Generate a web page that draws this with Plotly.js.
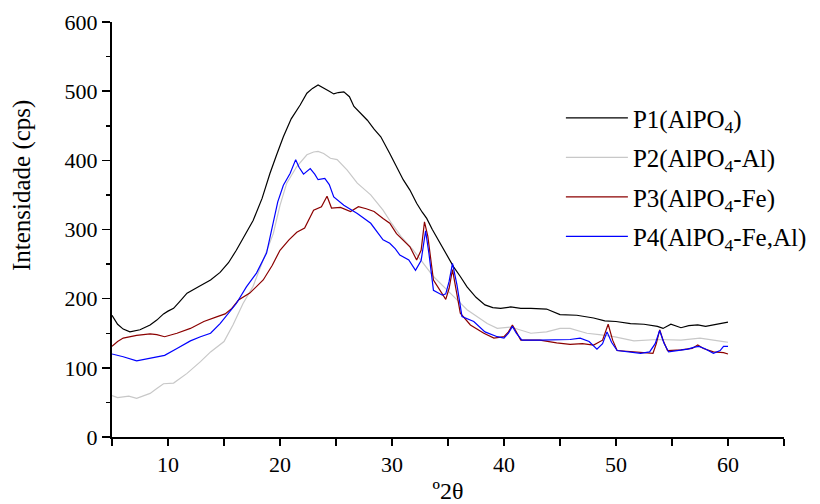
<!DOCTYPE html>
<html>
<head>
<meta charset="utf-8">
<script src="https://cdn.plot.ly/plotly-3.0.1.min.js"></script>
<style>
  html, body { margin: 0; padding: 0; background: #fff; }
  #chart { width: 820px; height: 504px; }
</style>
</head>
<body>
<div id="chart"></div>
<script>
// ---- Data ----
const seriesNames = ["P1(AlPO<sub>4</sub>)", "P2(AlPO<sub>4</sub>-Al)", "P3(AlPO<sub>4</sub>-Fe)", "P4(AlPO<sub>4</sub>-Fe,Al)"];

const p1X = [5.0, 5.5, 6.0, 6.6, 7.5, 8.4, 9.0, 9.6, 10.0, 10.5, 11.0, 11.7, 12.8, 13.8, 14.65, 15.4, 16.1, 16.9, 17.6, 18.4, 19.1, 19.7, 20.3, 21.0, 21.8, 22.4, 22.9, 23.4, 23.9, 24.4, 24.8, 25.2, 25.7, 26.2, 26.6, 27.2, 27.8, 28.4, 29.0, 29.8, 30.4, 31.0, 31.6, 32.2, 32.7, 33.1, 33.6, 34.3, 34.9, 35.5, 36.1, 36.7, 37.5, 38.3, 39.0, 39.7, 40.6, 41.5, 42.4, 43.8, 45.0, 46.5, 48.0, 49.0, 50.0, 51.3, 52.5, 53.7, 54.2, 54.9, 55.8, 56.5, 57.3, 58.0, 58.7, 59.6, 60.0];
const p1Y = [176, 163, 156, 152, 155, 162, 169, 178, 182, 186, 195, 208, 218, 227, 238, 252, 270, 292, 313, 345, 381, 408, 434, 460, 480, 497, 504, 509, 505, 500, 496, 498, 499, 492, 478, 468, 458, 445, 434, 410, 392, 372, 357, 338, 325, 316, 300, 280, 263, 246, 232, 217, 202, 191, 187, 186, 188, 186, 186, 185, 177, 176, 172, 168, 167, 164, 163, 160, 157, 163, 158, 161, 162, 160, 162, 165, 166];

const p2X = [5.0, 5.5, 6.0, 6.5, 7.2, 8.4, 9.0, 9.6, 10.5, 11.7, 12.9, 13.8, 15.0, 15.8, 16.7, 17.6, 18.5, 19.4, 20.0, 20.6, 21.5, 22.4, 23.0, 23.4, 23.9, 24.5, 25.1, 26.0, 26.9, 28.1, 29.2, 30.0, 30.8, 31.9, 32.8, 33.7, 35.2, 36.7, 38.5, 39.4, 40.6, 41.5, 42.4, 43.8, 45.0, 45.9, 47.4, 48.5, 49.8, 51.6, 53.7, 55.8, 57.5, 59.6, 60.0];
const p2Y = [60, 57, 58, 59, 56, 63, 70, 77, 78, 92, 109, 123, 138, 162, 193, 218, 256, 294, 335, 367, 391, 408, 412, 413, 410, 403, 401, 386, 367, 350, 328, 308, 290, 270, 251, 232, 208, 184, 164, 157, 159, 154, 150, 152, 157, 157, 150, 148, 145, 139, 141, 140, 143, 138, 137];

const p3X = [5.0, 5.5, 6.0, 7.2, 8.4, 9.0, 9.7, 10.8, 12.0, 13.2, 14.4, 15.1, 15.7, 16.3, 17.3, 18.5, 19.3, 20.0, 20.8, 21.5, 22.2, 23.0, 23.7, 24.2, 24.6, 25.4, 26.3, 27.0, 27.7, 28.4, 29.2, 29.8, 30.4, 31.0, 31.6, 32.2, 32.6, 32.9, 33.2, 33.7, 34.3, 34.8, 35.1, 35.4, 35.7, 36.1, 37.0, 38.2, 39.1, 40.0, 40.4, 40.75, 41.1, 41.5, 43.2, 44.7, 45.9, 47.0, 48.0, 48.8, 49.3, 49.7, 50.1, 51.0, 52.2, 53.3, 53.6, 53.9, 54.2, 54.6, 55.8, 56.8, 57.3, 57.8, 58.7, 59.6, 60.0];
const p3Y = [131, 138, 143, 147, 149, 148, 145, 150, 157, 167, 174, 178, 186, 198, 208, 227, 248, 270, 285, 296, 302, 328, 333, 348, 331, 332, 326, 333, 330, 326, 316, 309, 294, 285, 275, 256, 270, 311, 290, 227, 212, 199, 215, 242, 215, 179, 162, 150, 143, 145, 152, 162, 152, 140, 140, 136, 134, 135, 133, 140, 163, 140, 125, 124, 123, 121, 135, 155, 140, 125, 126, 128, 133, 128, 123, 122, 120];

const p4X = [5.0, 5.5, 6.0, 7.2, 8.7, 9.7, 10.8, 12.0, 12.9, 13.8, 14.65, 15.25, 16.1, 17.0, 17.9, 18.8, 19.4, 19.8, 20.3, 20.9, 21.4, 21.7, 22.1, 22.7, 23.1, 23.4, 24.0, 24.4, 24.8, 25.7, 26.9, 28.1, 29.2, 29.8, 30.3, 30.7, 31.5, 32.1, 32.6, 33.0, 33.3, 33.7, 34.5, 34.8, 35.1, 35.4, 35.8, 36.25, 37.3, 38.3, 39.4, 40.0, 40.4, 40.75, 41.1, 41.6, 43.2, 44.7, 45.9, 46.8, 47.6, 48.3, 48.8, 49.2, 49.6, 50.1, 51.0, 52.2, 53.0, 53.5, 53.9, 54.3, 54.7, 55.5, 56.4, 57.0, 57.4, 57.9, 58.7, 59.3, 59.6, 60.0];
const p4Y = [120, 118, 116, 110, 115, 118, 128, 139, 145, 150, 164, 176, 193, 217, 237, 266, 309, 340, 364, 381, 401, 390, 380, 388, 380, 372, 374, 365, 347, 335, 323, 309, 285, 280, 272, 263, 256, 241, 255, 298, 265, 212, 205, 207, 225, 251, 220, 174, 167, 152, 145, 143, 150, 160, 150, 140, 140, 140, 141, 143, 138, 127, 135, 152, 137, 125, 123, 121, 123, 135, 154, 135, 123, 125, 127, 130, 131, 128, 121, 125, 131, 131];

const xTickVals = [10, 20, 30, 40, 50, 60];
const yTickVals = [0, 100, 200, 300, 400, 500, 600];
const xTitle = "º2θ";
const yTitle = "Intensidade (cps)";

// ---- Styles ----
const colors = ["#000000", "#c8c8c8", "#8b0000", "#0000ff"];
const FONT = "'Liberation Serif', 'Times New Roman', Times, serif";

const xs = [p1X, p2X, p3X, p4X];
const ys = [p1Y, p2Y, p3Y, p4Y];
const traces = xs.map((x, i) => ({
  type: "scatter",
  mode: "lines",
  x: x,
  y: ys[i],
  name: seriesNames[i],
  legendgroup: "g" + i,
  line: { color: colors[i], width: 1.2 },
  hoverinfo: "skip"
}));

const axisCommon = {
  showgrid: false,
  zeroline: false,
  showline: true,
  linecolor: "#000",
  linewidth: 2,
  ticks: "outside",
  tickcolor: "#000",
  tickwidth: 1.5,
  tickfont: { family: FONT, size: 22, color: "#000" },
  fixedrange: true,
  automargin: false
};

const layout = {
  width: 820,
  height: 504,
  margin: { l: 112, r: 36, t: 22, b: 67, pad: 0, autoexpand: false },
  paper_bgcolor: "#fff",
  plot_bgcolor: "#fff",
  font: { family: FONT, color: "#000" },
  showlegend: true,
  legend: {
    x: 0.668, y: 0.824, xanchor: "left", yanchor: "top",
    font: { family: FONT, size: 25, color: "#000" },
    bgcolor: "rgba(0,0,0,0)",
    borderwidth: 0,
    itemwidth: 62,
    tracegroupgap: 4,
    traceorder: "grouped"
  },
  xaxis: Object.assign({}, axisCommon, {
    range: [5, 65],
    tickmode: "array",
    tickvals: xTickVals,
    ticklen: 7,
    minor: { dtick: 5, tick0: 0, ticks: "outside", ticklen: 7, tickwidth: 1.5, tickcolor: "#000", showgrid: false },
    title: { text: xTitle, font: { family: FONT, size: 24, color: "#000" }, standoff: 34 }
  }),
  yaxis: Object.assign({}, axisCommon, {
    range: [0, 600],
    tickmode: "array",
    tickvals: yTickVals,
    ticklen: 8,
    minor: { dtick: 50, tick0: 0, ticks: "outside", ticklen: 4, tickwidth: 1.5, tickcolor: "#000", showgrid: false }
  }),
  annotations: [{
    text: yTitle,
    xref: "paper", yref: "paper",
    x: -0.134, y: 0.607,
    xanchor: "center", yanchor: "middle",
    textangle: -90,
    showarrow: false,
    font: { family: FONT, size: 25, color: "#000" }
  }]
};

Plotly.newPlot("chart", traces, layout, { displayModeBar: false, staticPlot: true });
</script>
</body>
</html>
